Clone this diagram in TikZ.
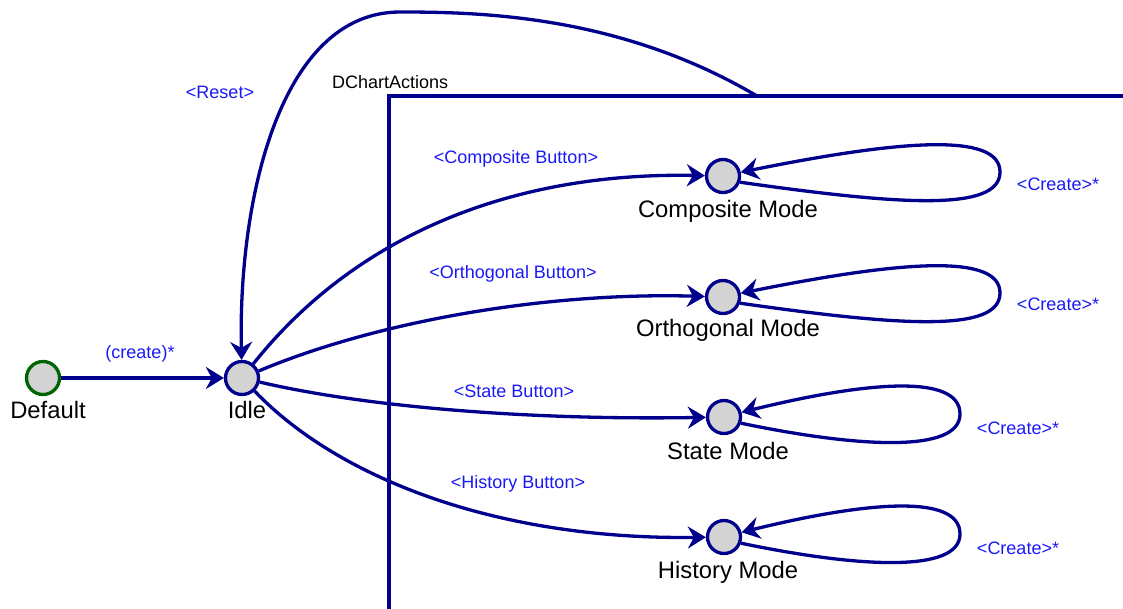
\documentclass[tikz,border=0pt]{standalone}
\usepackage{fontspec}
\setmainfont{Liberation Sans}
\usetikzlibrary{arrows.meta}
\definecolor{navy}{RGB}{0,0,140}
\definecolor{lblue}{RGB}{25,25,245}
\definecolor{dgreen}{RGB}{0,100,0}
\definecolor{nodefill}{RGB}{211,211,211}
\tikzset{
  st/.style={circle, draw=navy, line width=3.3pt, fill=nodefill, minimum size=33pt, inner sep=0pt},
  stname/.style={font=\fontsize{23.8}{26}\selectfont, text=black, inner sep=0pt},
  lab/.style={font=\fontsize{18}{20}\selectfont, text=lblue, inner sep=0pt},
  tr/.style={draw=navy, line width=3.3pt, -{Stealth[length=18pt,width=22pt,inset=6pt]}},
}
\begin{document}
\begin{tikzpicture}[x=1pt,y=-1pt]
\useasboundingbox (0,0) rectangle (1123,608);
% container box
\draw[navy, line width=3.3pt] (1135,610.5) -- (389,610.5) -- (389,96) -- (1135,96);
\node[anchor=south west, font=\fontsize{18}{20}\selectfont, inner sep=0pt] (boxlabel) at (332,89) {DChartActions};
\coordinate (resetstart) at (757,96);

% states
\node[st, draw=dgreen] (default) at (43,378) {};
\node[st] (idle) at (242,378) {};
\node[st] (comp) at (723,176) {};
\node[st] (orth) at (723,297) {};
\node[st] (state) at (724,417) {};
\node[st] (hist) at (724,537) {};

\node[stname] (defaultname) at (48,410) {Default};
\node[stname] (idlename) at (247,410) {Idle};
\node[stname] (compname) at (728,211) {Composite Mode};
\node[stname] (orthname) at (728,330) {Orthogonal Mode};
\node[stname] (statename) at (728,451) {State Mode};
\node[stname] (histname) at (728,572) {History Mode};

% transitions
\draw[tr] (default) -- (idle);
\node[lab] (createlab) at (140,354) {(create)*};

\draw[tr] (resetstart) .. controls (620,15) and (480,12) .. (400,12)
  .. controls (280,12) and (238,200) .. (idle);
\node[lab] (resetlab) at (220,92) {<Reset>};

\draw[tr] (idle) .. controls (360,230) and (520,172) .. (comp);
\node[lab] (complab) at (516,159) {<Composite Button>};
\draw[tr] (idle) .. controls (380,320) and (550,292) .. (orth);
\node[lab] (orthlab) at (513,274) {<Orthogonal Button>};
\draw[tr] (idle) .. controls (380,410) and (550,420) .. (state);
\node[lab] (statelab) at (514,391) {<State Button>};
\draw[tr] (idle) .. controls (340,480) and (500,540) .. (hist);
\node[lab] (histlab) at (518,484) {<History Button>};

% self loops
\draw[tr] (comp.-20) .. controls (900,205) and (1000,212) .. (1000,172)
  .. controls (1000,132) and (900,140) .. (comp.12);
\node[lab] (cc) at (1058,184) {<Create>*};
\draw[tr] (orth.-20) .. controls (900,326) and (1000,333) .. (1000,293)
  .. controls (1000,253) and (900,261) .. (orth.12);
\node[lab] (oc) at (1058,304) {<Create>*};
\draw[tr] (state.-20) .. controls (860,448) and (960,453) .. (960,414)
  .. controls (960,372) and (860,383) .. (state.15);
\node[lab] (sc) at (1018,428) {<Create>*};
\draw[tr] (hist.-20) .. controls (860,568) and (960,573) .. (960,534)
  .. controls (960,492) and (860,503) .. (hist.15);
\node[lab] (hc) at (1018,548) {<Create>*};
\end{tikzpicture}
\end{document}
